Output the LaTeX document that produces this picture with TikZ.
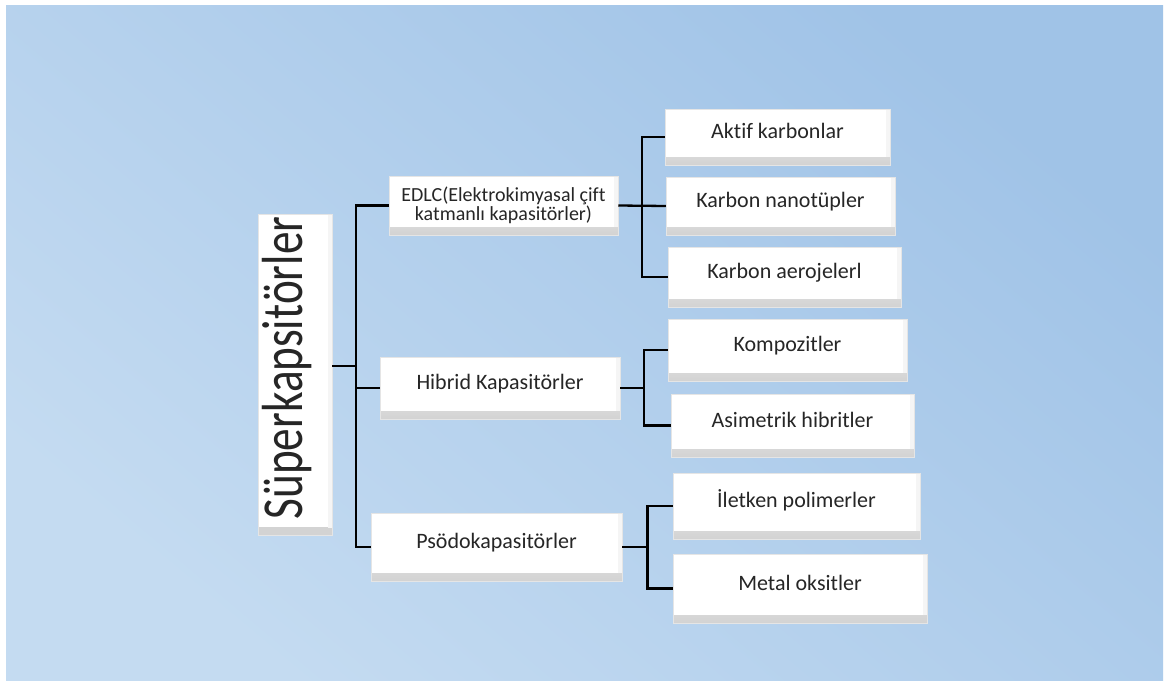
\documentclass[tikz,border=0pt]{standalone}
\usepackage{fontspec}
\usepackage{graphicx}
\setmainfont{Carlito}[Ligatures=NoCommon]
\usetikzlibrary{calc}

\definecolor{bgdark}{RGB}{160,195,231}
\definecolor{bglight}{RGB}{196,219,241}

\begin{document}
\begin{tikzpicture}[
    x=1pt, y=-1pt,
    box/.style={rectangle, fill=white, draw=gray!20, line width=0.5pt, align=center, inner sep=2pt, text=black!85, font=\fontsize{22}{19}\selectfont,
        path picture={
            \shade[top color=gray!4, bottom color=gray!35] ([yshift=8pt]path picture bounding box.south west) rectangle (path picture bounding box.south east);
            \fill[gray!8] ([xshift=-4pt]path picture bounding box.north east) rectangle ([yshift=8pt]path picture bounding box.south east);
        }},
    leaf/.style={box, text height=15pt, text depth=12pt},
    branch/.style={line width=2.3pt, black}
]
    % Background
    \fill[white] (0,0) rectangle (1167,682);
    \useasboundingbox (0,0) rectangle (1167,682);
    \shade[top color=bgdark, bottom color=bglight, shading angle=-40] (6,6) rectangle (1163,680);

    % Layout
    \node[box, minimum width=74pt, minimum height=321pt, text depth=14pt, font=\fontsize{58}{58}\selectfont] (super) at (295,375) {\rotatebox{90}{\scalebox{0.78}[1]{Süperkapsitörler}}\hspace{16pt}};

    \node[box, minimum width=229pt, minimum height=59pt, font=\fontsize{20}{19}\selectfont] (edlc) at (503.5,205.5) {EDLC(Elektrokimyasal çift\\katmanlı kapasitörler)};
    \node[leaf, minimum width=240pt, minimum height=62pt] (hibrid) at (500,388) {Hibrid Kapasitörler};
    \node[leaf, minimum width=251pt, minimum height=68pt] (psodo) at (496.5,547) {Psödokapasitörler};

    \node[leaf, minimum width=225pt, minimum height=56pt] (aktif) at (777.5,137) {Aktif karbonlar};
    \node[leaf, minimum width=229pt, minimum height=58pt] (nano) at (780.5,206) {Karbon nanotüpler};
    \node[leaf, minimum width=233pt, minimum height=60pt] (aero) at (784.5,277) {Karbon aerojelerl};
    \node[leaf, minimum width=239pt, minimum height=62pt] (komp) at (787.5,350) {Kompozitler};
    \node[leaf, minimum width=243pt, minimum height=63pt] (asim) at (792.5,425.5) {Asimetrik hibritler};
    \node[leaf, minimum width=247pt, minimum height=66pt] (ilet) at (796.5,506) {İletken polimerler};
    \node[leaf, minimum width=254pt, minimum height=69pt] (metal) at (800,588.5) {Metal oksitler};

    % Connectors
    \coordinate (trunk) at (356,366);
    \draw[branch] (super.east |- trunk) -- (trunk);
    \draw[branch] (edlc.west) -| (trunk) |- (psodo.west);
    \draw[branch] (trunk |- hibrid.west) -- (hibrid.west);

    \coordinate (ejoin) at ($(edlc.east)!0.5!(nano.west)$);
    \draw[branch] (edlc.east) -- (nano.west);
    \draw[branch] (aktif.west) -| (ejoin) |- (aero.west);

    \coordinate (hjoin) at ($(hibrid.east)!0.5!(komp.west)$);
    \draw[branch] (hibrid.east) -- (hibrid.east -| hjoin);
    \draw[branch] (komp.west) -| (hjoin) |- (asim.west);

    \coordinate (pjoin) at ($(psodo.east)!0.5!(ilet.west)$);
    \draw[branch] (psodo.east) -- (psodo.east -| pjoin);
    \draw[branch] (ilet.west) -| (pjoin) |- (metal.west);
\end{tikzpicture}
\end{document}
